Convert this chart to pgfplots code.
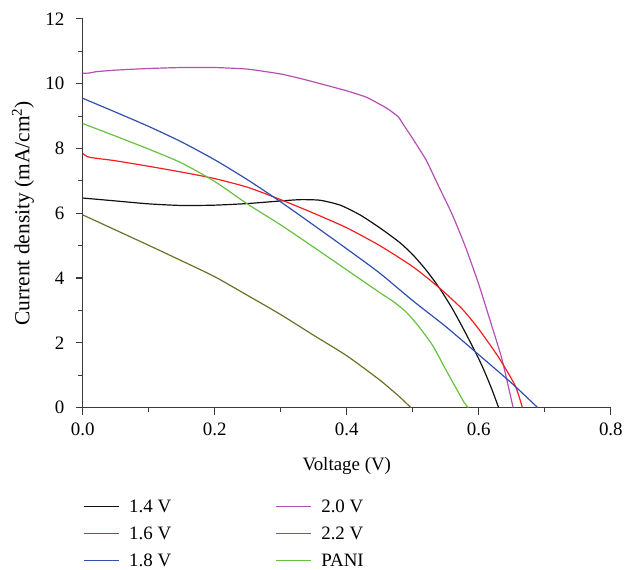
\documentclass[border=0pt]{standalone}
\usepackage{pgfplots}
\pgfplotsset{compat=1.18}
\usepackage{fontspec}
\setmainfont{Liberation Serif}
\definecolor{cblack}{HTML}{111111}
\definecolor{cred}{HTML}{F41E1E}
\definecolor{cblue}{HTML}{2F4FB0}
\definecolor{cmag}{HTML}{B44FB4}
\definecolor{colive}{HTML}{6F6F2A}
\definecolor{cgreen}{HTML}{66C23E}
\definecolor{axgray}{HTML}{3A3A3A}
\begin{document}
\begin{tikzpicture}
\begin{axis}[
    scale only axis,
    width=530pt, height=390pt,
    xmin=0, xmax=0.8, ymin=0, ymax=12,
    axis lines*=left,
    axis line style={axgray, line width=1.2pt},
    tick style={axgray, line width=1.1pt},
    tick align=outside,
    major tick length=7pt,
    minor tick length=4.5pt,
    xtick={0,0.2,...,0.8},
    ytick={0,2,...,12},
    minor x tick num=1,
    minor y tick num=1,
    font=\fontsize{19}{22}\selectfont,
    ticklabel style={font=\fontsize{19}{22}\selectfont},
    /pgf/number format/assume math mode=true,
    x tick label style={yshift=-5pt, /pgf/number format/.cd, fixed, fixed zerofill, precision=1},
    y tick label style={xshift=-8pt},
    xlabel={Voltage (V)},
    ylabel={Current density (mA/cm\textsuperscript{2})},
    every axis x label/.style={at={(axis description cs:0.5,0)}, anchor=center, yshift=-59pt},
    every axis y label/.style={at={(axis description cs:0,0.5)}, anchor=center, xshift=-60pt, rotate=90,
        font=\fontsize{21.5}{24}\selectfont},
    legend columns=2,
    legend cell align=left,
    legend style={draw=none, fill=none, inner sep=0pt, at={(0,-0.231)}, anchor=north west,
        font=\fontsize{19}{22}\selectfont,
        nodes={inner xsep=0pt, inner ysep=2pt},
        row sep=9pt,
        /tikz/every odd column/.append style={column sep=10pt},
        /tikz/every even column/.append style={column sep=104pt}},
    legend image code/.code={\draw[#1, line width=1.5pt] (0pt,0pt) -- (35pt,0pt);},
    every axis plot/.append style={line width=1.2pt},
]
\addplot[color=cblack, smooth, tension=0.4] coordinates {
(0,6.47) (0.05,6.38) (0.1,6.29) (0.15,6.24) (0.2,6.25) (0.25,6.3) (0.3,6.38)
(0.33,6.42) (0.36,6.4) (0.39,6.25) (0.42,5.95) (0.45,5.55) (0.48,5.1) (0.5,4.72)
(0.52,4.25) (0.54,3.7) (0.56,3.05) (0.58,2.3) (0.6,1.5) (0.61,1.05) (0.62,0.55) (0.63,0)};
\addplot[color=cmag, smooth, tension=0.3] coordinates {
(0,10.32) (0.01,10.33) (0.02,10.37) (0.05,10.42) (0.1,10.47) (0.15,10.5) (0.2,10.5)
(0.25,10.45) (0.3,10.3) (0.33,10.16) (0.36,10.0) (0.4,9.78) (0.43,9.58) (0.46,9.25)
(0.478,8.98) (0.484,8.79) (0.5,8.3) (0.52,7.65) (0.54,6.8) (0.56,5.95) (0.58,4.95) (0.6,3.8)
(0.62,2.5) (0.635,1.5) (0.652,0)};
\addplot[color=cred, smooth, tension=0.4] coordinates {
(0,7.85) (0.01,7.73) (0.05,7.62) (0.1,7.45) (0.15,7.27) (0.2,7.07) (0.25,6.8)
(0.3,6.42) (0.35,6.0) (0.4,5.55) (0.45,5.0) (0.5,4.35) (0.54,3.7) (0.575,3.04)
(0.6,2.42) (0.63,1.55) (0.655,0.68) (0.666,0)};
\addplot[color=colive, smooth, tension=0.4] coordinates {
(0,5.95) (0.05,5.48) (0.1,5.01) (0.15,4.53) (0.2,4.04) (0.25,3.46) (0.3,2.87)
(0.35,2.23) (0.4,1.6) (0.45,0.85) (0.48,0.33) (0.497,0)};
\addplot[color=cblue, smooth, tension=0.4] coordinates {
(0,9.55) (0.05,9.12) (0.1,8.68) (0.15,8.2) (0.2,7.65) (0.25,7.03) (0.3,6.35)
(0.35,5.63) (0.4,4.9) (0.45,4.15) (0.5,3.3) (0.55,2.5) (0.6,1.63) (0.65,0.75) (0.689,0)};
\addplot[color=cgreen, smooth, tension=0.4] coordinates {
(0,8.77) (0.05,8.38) (0.1,7.98) (0.15,7.55) (0.2,6.98) (0.25,6.28) (0.3,5.64)
(0.35,4.95) (0.4,4.25) (0.45,3.55) (0.47,3.28) (0.49,2.95) (0.51,2.48) (0.53,1.92)
(0.55,1.17) (0.565,0.62) (0.578,0.15) (0.584,0)};
\legend{1.4 V, 2.0 V, 1.6 V, 2.2 V, 1.8 V, PANI}
\end{axis}
\path ([shift={(-83pt,-158pt)}]current axis.south west) rectangle ([shift={(13pt,19pt)}]current axis.north east);
\end{tikzpicture}
\end{document}
